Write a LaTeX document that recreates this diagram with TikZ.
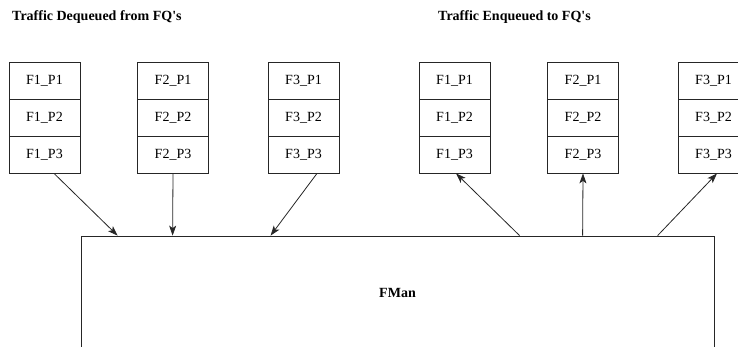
\documentclass[tikz,border=0pt]{standalone}
\usepackage{fontspec}
\setmainfont{Liberation Serif}
\usetikzlibrary{calc,positioning,arrows.meta}
\newcommand{\fqarrowstyle}{-{Stealth[length=10pt,width=7pt,inset=2.5pt]}}

\begin{document}
\begin{tikzpicture}[
    x=1pt, y=-1pt,
    font=\fontsize{14}{16}\selectfont,
    sig/.style={\fqarrowstyle, line width=0.8pt, draw=black!85},
    qcell/.style={draw=black!85, line width=0.8pt, minimum width=71pt, minimum height=37pt, inner sep=0pt},
    fmanbox/.style={draw=black!85, line width=0.8pt, minimum width=633pt, minimum height=114pt, inner sep=0pt, font=\fontsize{14}{16}\selectfont\bfseries},
    title/.style={anchor=west, inner sep=0pt, font=\fontsize{14}{16}\selectfont\bfseries}
]
  \useasboundingbox (0,0) rectangle (738,346);
  \def\cellh{37}
  \def\toprow{80.5}

  % titles
  \node[title] (title-dq) at (12,17) {Traffic Dequeued from FQ\textquotesingle s};
  \node[title] (title-eq) at (438,17) {Traffic Enqueued to FQ\textquotesingle s};

  % frame queue columns: dequeued (dq) and enqueued (eq)
  \foreach \g/\x in {dq/44.5, eq/454.5} {
    \foreach \f/\dx in {1/0, 2/128.5, 3/259} {
      \foreach \p in {1,2,3} {
        \pgfmathsetmacro{\cx}{\x + \dx}
        \pgfmathsetmacro{\cy}{\toprow + \cellh * (\p - 1)}
        \node[qcell] (\g-\f-\p) at (\cx,\cy) {F\f\_P\p};
      }
    }
  }

  % frame manager
  \node[fmanbox] (fman) at (397.5,293) {FMan};

  % dequeued traffic into FMan
  \draw[sig] ([xshift=9.5pt]dq-1-3.south) -- ([xshift=37pt]fman.north west);
  \draw[sig] (dq-2-3.south) -- ([xshift=92pt]fman.north west);
  \draw[sig] ([xshift=13.5pt]dq-3-3.south) -- ([xshift=190pt]fman.north west);

  % enqueued traffic out of FMan
  \draw[sig] ([xshift=439pt]fman.north west) -- ([xshift=1.5pt]eq-1-3.south);
  \draw[sig] ([xshift=502pt]fman.north west) -- (eq-2-3.south);
  \draw[sig] ([xshift=577pt]fman.north west) -- ([xshift=3.5pt]eq-3-3.south);
\end{tikzpicture}
\end{document}
